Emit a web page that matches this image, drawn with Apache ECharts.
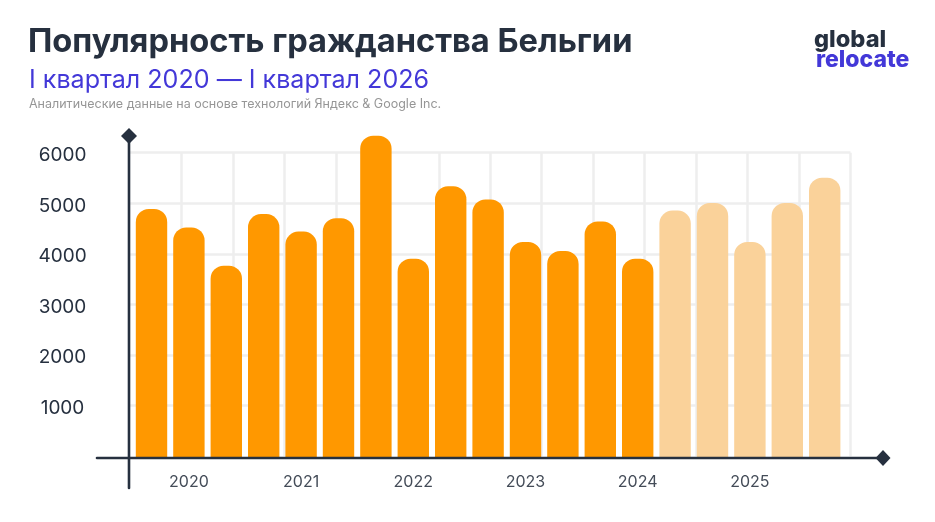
<!DOCTYPE html>
<html>
<head>
<meta charset="utf-8">
<style>
html,body{margin:0;padding:0;background:#fff;}
#chart{width:935px;height:522px;}
</style>
<script src="https://cdn.jsdelivr.net/npm/echarts@6/dist/echarts.min.js"></script>
</head>
<body>
<div id="chart"></div>
<script>
var yearLabels = ['', '2020', '', '', '2021', '', '', '2022', '', '', '2023', '', '', '2024', '', '', '2025', '', ''];
var solidValues = [4900, 4535, 3780, 4800, 4455, 4720, 6350, 3920, 5350, 5090, 4250, 4070, 4655, 3920, '-', '-', '-', '-', '-'];
var paleValues = ['-', '-', '-', '-', '-', '-', '-', '-', '-', '-', '-', '-', '-', '-', 4870, 5020, 4250, 5020, 5520];
var yTicks = [1000, 2000, 3000, 4000, 5000, 6000];

var dark = '#26303f';
var blue = '#4338d8';
var font = 'Inter';

var chart = echarts.init(document.getElementById('chart'));
chart.setOption({
    animation: false,
    backgroundColor: '#fff',
    title: [
        {text: 'Популярность гражданства Бельгии', left: 23, top: 21,
            textStyle: {fontFamily: font, fontSize: 32.6, fontWeight: 700, color: dark}},
        {text: 'I квартал 2020 — I квартал 2026', left: 24, top: 63,
            textStyle: {fontFamily: font, fontSize: 25.1, fontWeight: 400, color: blue}},
        {text: 'Аналитические данные на основе технологий Яндекс & Google Inc.', left: 24, top: 93,
            textStyle: {fontFamily: font, fontSize: 12.5, fontWeight: 400, color: '#969696'}},
        {text: 'global', left: 809, top: 23,
            textStyle: {fontFamily: font, fontSize: 23.6, fontWeight: 800, color: dark}},
        {text: 'relocate', left: 811, top: 44,
            textStyle: {fontFamily: font, fontSize: 23, fontWeight: 800, color: blue}}
    ],
    grid: [
        //背景网格
        {left: 130, top: 152.7, width: 720.5, height: 303.6},
        //柱图,1000=50.6px
        {left: 132.8, top: 102.8, width: 710.6, height: 354.2}
    ],
    xAxis: [
        {type: 'value', gridIndex: 0, min: 0, max: 14, interval: 1,
            axisLine: {show: false}, axisTick: {show: false}, axisLabel: {show: false},
            splitLine: {show: true, showMinLine: false, lineStyle: {color: '#eeeeee', width: 2.5}}},
        {type: 'category', gridIndex: 1, data: yearLabels,
            axisLine: {show: false}, axisTick: {show: false},
            axisLabel: {interval: 0, margin: 17, fontFamily: font, fontSize: 16, color: '#444c58'}}
    ],
    yAxis: [
        {type: 'value', gridIndex: 0, min: 0, max: 6000, interval: 1000,
            axisLine: {show: false}, axisTick: {show: false},
            axisLabel: {margin: 67.5, align: 'center',
                formatter: function (v) {return yTicks.indexOf(v) >= 0 ? '{t|' + v + '}' : '';},
                rich: {t: {padding: [5, 0, 0, 0], fontFamily: font, fontSize: 19, color: dark}}},
            splitLine: {show: true, showMinLine: false, lineStyle: {color: '#eeeeee', width: 2.5}}},
        {type: 'value', gridIndex: 1, min: 0, max: 7000, interval: 1000,
            axisLine: {show: false}, axisTick: {show: false}, axisLabel: {show: false},
            splitLine: {show: false}}
    ],
    series: [
        {type: 'bar', xAxisIndex: 1, yAxisIndex: 1, data: solidValues, barWidth: 31.4, barGap: '-100%',
            itemStyle: {color: '#ff9800', borderRadius: [13, 13, 0, 0]}},
        {type: 'bar', xAxisIndex: 1, yAxisIndex: 1, data: paleValues, barWidth: 31.4,
            itemStyle: {color: '#fad29a', borderRadius: [13, 13, 0, 0]}}
    ],
    //坐标轴线和菱形箭头
    graphic: [
        {type: 'line', z: 100, shape: {x1: 129, y1: 136, x2: 129, y2: 488},
            style: {stroke: dark, lineWidth: 2.6, lineCap: 'round'}},
        {type: 'line', z: 100, shape: {x1: 97, y1: 458, x2: 882, y2: 458},
            style: {stroke: dark, lineWidth: 2.6, lineCap: 'round'}},
        {type: 'polygon', z: 101, shape: {points: [[129, 128], [137, 136], [129, 144], [121, 136]]},
            style: {fill: dark}},
        {type: 'polygon', z: 101, shape: {points: [[883, 450], [890.5, 458], [883, 466], [875.5, 458]]},
            style: {fill: dark}}
    ]
});
</script>
</body>
</html>
